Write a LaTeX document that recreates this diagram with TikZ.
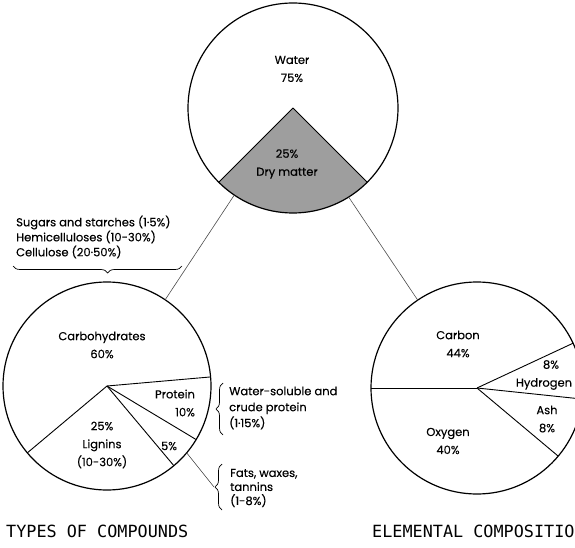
\documentclass[tikz,border=0pt]{standalone}
\usepackage{fontspec}
\setmainfont{Poppins}[FakeBold=0.25]
\newfontfamily\monofont{DejaVu Sans Mono}
\usetikzlibrary{decorations.pathreplacing}
\begin{document}
\begin{tikzpicture}[x=1pt,y=-1pt,
  pie/.style={circle, draw, line width=1.2pt, inner sep=0pt, outer sep=0pt},
  seg/.style={line width=0.9pt},
  conn/.style={line width=0.6pt, draw=black!70},
  lbl/.style={font=\fontsize{11.5}{18}\selectfont, align=center, inner sep=0pt},
  side/.style={font=\fontsize{11.5}{16}\selectfont, align=left, inner sep=0pt, anchor=west},
  brc/.style={decorate, decoration={brace, amplitude=7pt}, line width=0.7pt},
  title/.style={font=\monofont\fontsize{16.8}{20}\selectfont, inner sep=0pt, anchor=west},
  dry/.style={fill=black!38}]
\useasboundingbox (0,0) rectangle (575,548);
\clip (0,0) rectangle (575,548);

% top pie
\coordinate (tc) at (293,108);
\fill[dry] (tc) -- ++(225:105pt) arc[start angle=225, end angle=315, radius=105pt] -- cycle;
\node[pie, minimum size=210pt] (top) at (tc) {};
\draw[seg] (top.center) -- (top.225);
\draw[seg] (top.center) -- (top.315);
\node[lbl] (water) at (292,69) {Water\\75\%};
\node[lbl] (drym) at (287,164) {25\%\\Dry matter};

% left pie
\node[pie, minimum size=208pt] (lp) at (107,386) {};
\draw[seg] (lp.center) -- (lp.5);
\draw[seg] (lp.center) -- (lp.-31);
\draw[seg] (lp.center) -- (lp.-50);
\draw[seg] (lp.center) -- (lp.-140);
\node[lbl] (carb) at (102,345) {Carbohydrates\\60\%};
\node[lbl, align=right] (prot) at (175,403) {Protein\\10\%};
\node[lbl] (lign) at (102,445) {25\%\\Lignins\\(10-30\%)};
\node[lbl] (five) at (169,446) {5\%};

% right pie
\node[pie, minimum size=212pt] (rp) at (477,388) {};
\draw[seg] (rp.center) -- (rp.180);
\draw[seg] (rp.center) -- (rp.25);
\draw[seg] (rp.center) -- (rp.-6);
\draw[seg] (rp.center) -- (rp.-40);
\node[lbl] (carbon) at (458,344) {Carbon\\44\%};
\node[lbl] (hyd) at (544,375) {\hspace*{14pt}8\%\\Hydrogen};
\node[lbl] (ash) at (547,419) {Ash\\8\%};
\node[lbl] (oxy) at (448,441) {Oxygen\\40\%};

% connectors
\draw[conn] (top.236) -- (lp.56);
\draw[conn] (top.302) -- (rp.124);

% top-left brace and text
\node[side, font=\fontsize{11.5}{15}\selectfont] (carbtext) at (16,237) {Sugars and starches (1·5\%)\\Hemicelluloses (10-30\%)\\Cellulose (20·50\%)};
\draw[brc, decoration={aspect=0.44}] (182,266) -- (13,266);

% protein brace
\draw[brc] (223,435) -- (223,383);
\node[side] (prottext) at (229,408) {Water-soluble and\\crude protein\\(1·15\%)};

% fats brace
\coordinate (ft) at (214,487);
\draw[brc] (222,510) -- (222,464);
\draw[conn] (lp.-40) -- (ft);
\node[side, font=\fontsize{11.5}{14}\selectfont] (fattext) at (230,488) {Fats, waxes,\\tannins\\(1-8\%)};

% titles
\node[title] (t1) at (6,531) {TYPES OF COMPOUNDS};
\node[title] (t2) at (372,531) {ELEMENTAL COMPOSITION};
\end{tikzpicture}
\end{document}
